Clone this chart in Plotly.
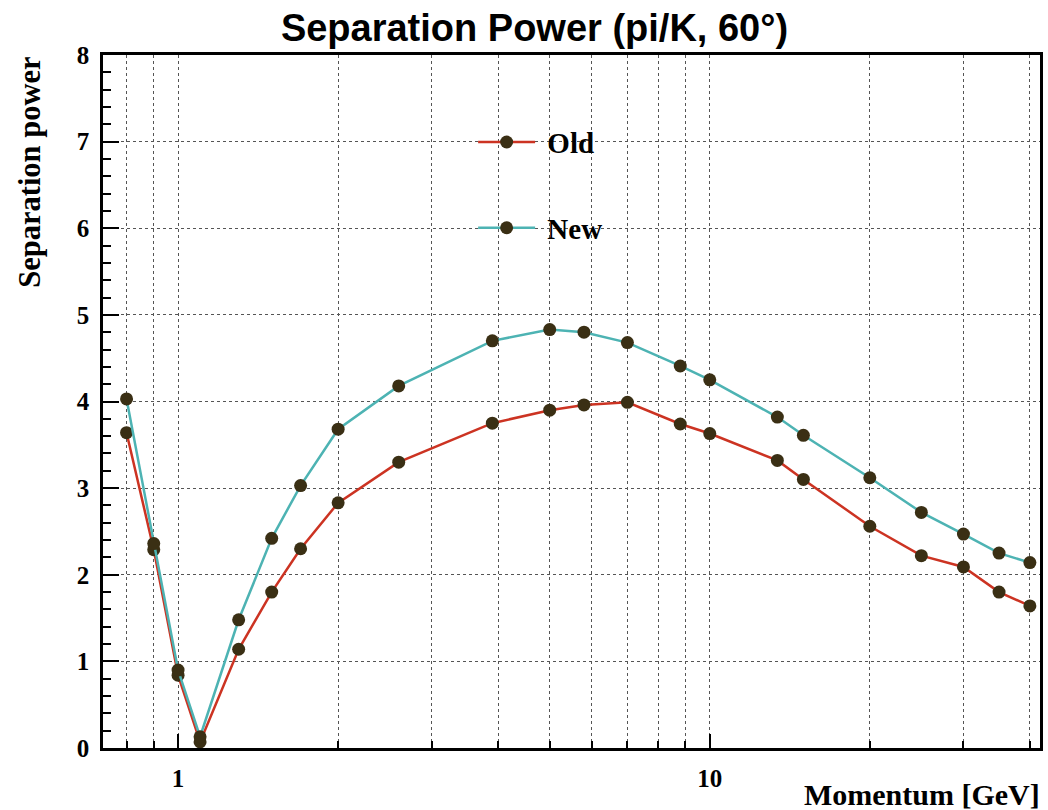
import plotly.graph_objects as go

# Data
momentum = [0.8, 0.9, 1.0, 1.1, 1.3, 1.5, 1.7, 2.0, 2.6, 3.9, 5.0, 5.8, 7.0, 8.8, 10, 13.4, 15, 20, 25, 30, 35, 40]
old_sep = [3.64, 2.29, 0.84, 0.07, 1.14, 1.80, 2.30, 2.83, 3.30, 3.75, 3.90, 3.96, 3.99, 3.74, 3.63, 3.32, 3.10, 2.56, 2.22, 2.09, 1.80, 1.64]
new_sep = [4.03, 2.36, 0.90, 0.13, 1.48, 2.42, 3.03, 3.68, 4.18, 4.70, 4.83, 4.80, 4.68, 4.41, 4.25, 3.82, 3.61, 3.12, 2.72, 2.47, 2.25, 2.14]

series_names = ["Old", "New"]
series_colors = ["#cc3322", "#4db3b3"]
marker_color = "#3a2f14"

x_major = [1, 10]
x_major_text = ["1", "10"]
x_minor = [0.8, 0.9, 2, 3, 4, 5, 6, 7, 8, 9, 20, 30, 40]

serif = "Liberation Serif"
fig = go.Figure()
for i, (name, ys) in enumerate(zip(series_names, [old_sep, new_sep])):
    fig.add_trace(go.Scatter(
        x=momentum, y=ys, mode="lines+markers", name="\u00a0" + name,
        legendgroup=name,
        line=dict(color=series_colors[i], width=2.5),
        marker=dict(color=marker_color, size=13, symbol="circle"),
    ))

fig.update_layout(
    width=1048, height=810,
    margin=dict(l=103, r=5, t=55, b=62),
    paper_bgcolor="white", plot_bgcolor="white",
    title=dict(text="<b>Separation Power (pi/K, 60°)</b>", x=0.51, xref="container", xanchor="center",
               y=0.966, yanchor="middle",
               font=dict(family="Liberation Sans", size=38, color="black")),
    legend=dict(x=0.395, y=0.911, xanchor="left", yanchor="top",
                font=dict(family=serif, size=29, color="black", weight="bold"),
                bgcolor="rgba(0,0,0,0)", tracegroupgap=45, itemwidth=57,
                traceorder="grouped"),
    showlegend=True,
)

fig.update_xaxes(
    type="log", range=[-0.1412, 1.6211],
    tickmode="array", tickvals=x_major, ticktext=x_major_text,
    ticks="inside", ticklen=14, tickwidth=2, tickcolor="black",
    showline=True, linecolor="black", linewidth=2.5, mirror=True,
    showgrid=True, gridcolor="#555555", griddash="dot", gridwidth=1,
    tickfont=dict(family=serif, size=25, color="black", weight="bold"),
    minor=dict(tickmode="array", tickvals=x_minor, ticks="inside", ticklen=7, tickwidth=1.5,
               tickcolor="black", showgrid=True, gridcolor="#555555", griddash="dot", gridwidth=1),
    zeroline=False,
    ticklabelstandoff=6,
)
fig.update_yaxes(
    range=[0, 8], dtick=1, tick0=0,
    ticks="inside", ticklen=16, tickwidth=2, tickcolor="black",
    showline=True, linecolor="black", linewidth=2.5, mirror=True,
    showgrid=True, gridcolor="#555555", griddash="dot", gridwidth=1,
    tickfont=dict(family=serif, size=25, color="black", weight="bold"),
    minor=dict(dtick=0.2, ticks="inside", ticklen=8, tickwidth=1.5, tickcolor="black", showgrid=False),
    zeroline=False,
    ticklabelstandoff=6,
)

fig.add_annotation(text="<b>Separation power</b>", textangle=-90,
                   xref="paper", yref="paper", x=-0.0787, y=1.0, xanchor="center", yanchor="top",
                   showarrow=False, font=dict(family=serif, size=30.5, color="black"))
fig.add_annotation(text="<b>Momentum [GeV]</b>",
                   xref="paper", yref="paper", x=1.0, y=-0.0678, xanchor="right", yanchor="middle",
                   xshift=2,
                   showarrow=False, font=dict(family=serif, size=30, color="black"))

fig.write_html("out.html")
